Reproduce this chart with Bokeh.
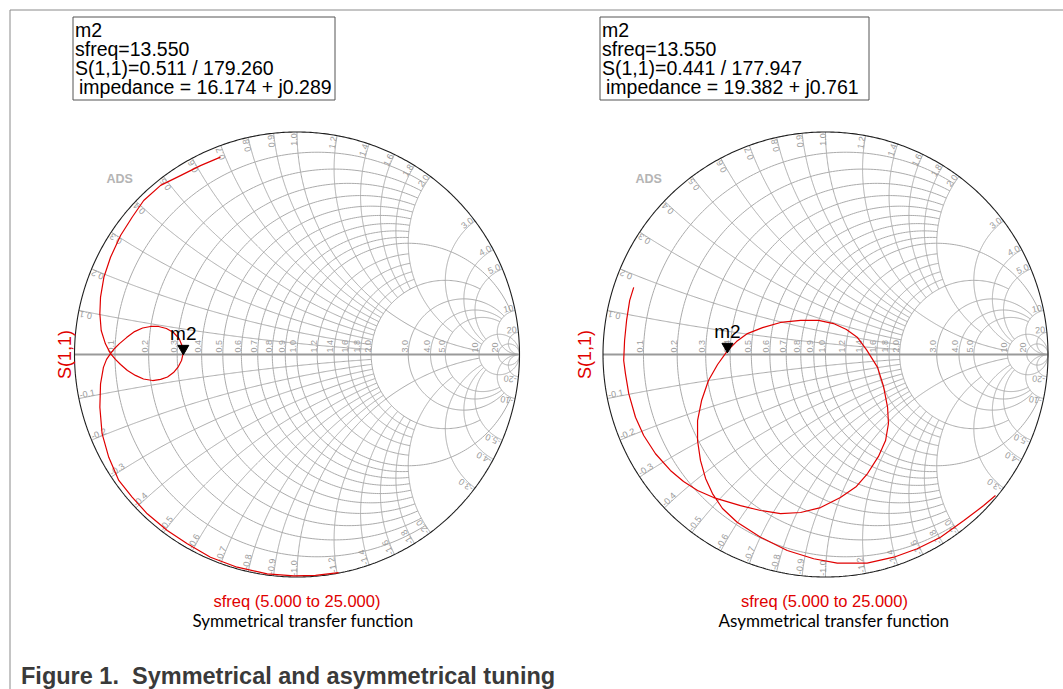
import numpy as np
from bokeh.plotting import figure
from bokeh.models import Range1d
from bokeh.core.properties import value
from bokeh.embed import file_html
from bokeh.resources import INLINE

# ---------------- data ----------------
grid_r = [0.1, 0.2, 0.3, 0.4, 0.5, 0.6, 0.7, 0.8, 0.9, 1.0, 1.2, 1.4, 1.6, 1.8, 2.0, 3.0, 4.0, 5.0, 10.0, 20.0]
grid_labels = ["0.1", "0.2", "0.3", "0.4", "0.5", "0.6", "0.7", "0.8", "0.9", "1.0", "1.2", "1.4",
               "1.6", "1.8", "2.0", "3.0", "4.0", "5.0", "10", "20"]
grid_limit = [2, 2, 2, 2, 2, 2, 2, 2, 2, 10, 2, 2, 2, 2, 5, 10, 10, 10, None, None]
grid_x = grid_r

sym_re = [-0.344, -0.434, -0.524, -0.613, -0.689, -0.741, -0.793, -0.838, -0.868, -0.883, -0.886, -0.880,
          -0.861, -0.838, -0.816, -0.793, -0.762, -0.726, -0.690, -0.649, -0.613, -0.582, -0.555, -0.533,
          -0.519, -0.511, -0.517, -0.530, -0.555, -0.587, -0.622, -0.658, -0.694, -0.730, -0.766, -0.798,
          -0.820, -0.838, -0.856, -0.870, -0.883, -0.886, -0.876, -0.846, -0.801, -0.741, -0.673, -0.583,
          -0.493, -0.389, -0.269, -0.134, -0.014, 0.083, 0.187]
sym_im = [0.887, 0.849, 0.804, 0.760, 0.692, 0.617, 0.535, 0.437, 0.347, 0.258, 0.183, 0.108,
          0.048, 0.004, -0.022, -0.045, -0.072, -0.094, -0.110, -0.117, -0.112, -0.101, -0.081, -0.054,
          -0.027, 0.007, 0.040, 0.072, 0.099, 0.117, 0.126, 0.126, 0.119, 0.103, 0.076, 0.049,
          0.027, 0.004, -0.022, -0.058, -0.132, -0.237, -0.356, -0.462, -0.566, -0.641, -0.716, -0.791,
          -0.851, -0.911, -0.956, -0.986, -0.995, -0.993, -0.980]

asym_re = [-0.862, -0.880, -0.894, -0.903, -0.907, -0.899, -0.884, -0.854, -0.817, -0.764,
           -0.697, -0.638, -0.575, -0.503, -0.382, -0.292, -0.202, -0.112, -0.022, 0.067,
           0.139, 0.189, 0.238, 0.270, 0.283, 0.279, 0.261, 0.234, 0.184, 0.144,
           0.094, 0.036, -0.031, -0.112, -0.202, -0.283, -0.351, -0.400, -0.441, -0.485,
           -0.526, -0.557, -0.575, -0.575, -0.562, -0.539, -0.508, -0.463, -0.397, -0.292,
           -0.172, -0.053, 0.053, 0.187, 0.307, 0.412, 0.517, 0.622, 0.711, 0.764]
asym_im = [0.302, 0.243, 0.153, 0.063, -0.027, -0.087, -0.177, -0.282, -0.364, -0.446,
           -0.521, -0.571, -0.611, -0.643, -0.679, -0.701, -0.715, -0.710, -0.688, -0.643,
           -0.593, -0.535, -0.458, -0.387, -0.310, -0.238, -0.144, -0.058, 0.022, 0.076,
           0.112, 0.139, 0.153, 0.153, 0.144, 0.121, 0.094, 0.058, 0.016, -0.045,
           -0.117, -0.207, -0.297, -0.387, -0.476, -0.557, -0.625, -0.692, -0.754, -0.821,
           -0.881, -0.918, -0.938, -0.938, -0.911, -0.873, -0.821, -0.746, -0.679, -0.634]

marker_mag = [0.511, 0.441]
marker_ang = [179.260, 177.947]
marker_name = ["m2", "m2"]
marker_freq = ["13.550", "13.550"]
marker_imp = ["16.174 + j0.289", "19.382 + j0.761"]
chart_titles = ["Symmetrical transfer function", "Asymmetrical transfer function"]
sweep_label = "sfreq (5.000 to 25.000)"
trace_name = "S(1,1)"
caption = "Figure 1.\u00a0 Symmetrical and asymmetrical tuning"

# ---------------- layout ----------------
W, H = 1063, 689
R = 222.5
CY = 354.0
CX = [296.5, 825.0]
OFF = [0.0, (CX[1] - CX[0]) / R]
RED = "#e00000"
GRID = "#ababab"
LBL = "#9c9c9c"


def sx(px):
    return (px - CX[0]) / R


def sy(py):
    return (CY - py) / R


def gam(z):
    return (z - 1) / (z + 1)


p = figure(width=W, height=H, x_range=Range1d(sx(0), sx(W)), y_range=Range1d(sy(H), sy(0)),
           output_backend="svg", toolbar_location=None, min_border=0,
           x_axis_location=None, y_axis_location=None)
p.grid.visible = False
p.outline_line_color = None
p.background_fill_color = "white"
p.border_fill_color = "white"

# page frame
p.segment(x0=[sx(9.5), sx(9.5)], y0=[sy(9.5), sy(9.5)], x1=[sx(1063), sx(9.5)], y1=[sy(9.5), sy(689)],
          line_color="#8a8a8a", line_width=1)

# ---------------- smith grids ----------------
xs_g, ys_g = [], []
for o in OFF:
    for r, lim in zip(grid_r, grid_limit):
        c = r / (1 + r)
        rho = 1 / (1 + r)
        if lim is None:
            th = np.linspace(0, 2 * np.pi, 361)
        else:
            t1 = np.angle(gam(r + 1j * lim) - c) % (2 * np.pi)
            th = np.linspace(t1, 2 * np.pi - t1, 260)
        xs_g.append(list(o + c + rho * np.cos(th)))
        ys_g.append(list(rho * np.sin(th)))
    for x, lim in zip(grid_x, grid_limit):
        cen = 1 + 1j / x
        t0 = np.angle(gam(1j * x) - cen) % (2 * np.pi)
        if lim is None:
            t1 = 1.5 * np.pi
        else:
            t1 = np.angle(gam(lim + 1j * x) - cen) % (2 * np.pi)
        th = np.linspace(t0, t1, 260)
        gx = 1 + np.cos(th) / x
        gy = 1 / x + np.sin(th) / x
        xs_g.append(list(o + gx))
        ys_g.append(list(gy))
        xs_g.append(list(o + gx))
        ys_g.append(list(-gy))
p.multi_line(xs_g, ys_g, line_color=GRID, line_width=1)

# real axis and rim
for o in OFF:
    p.line([o - 1, o + 1], [0, 0], line_color="#9a9a9a", line_width=2.2)
    th = np.linspace(0, 2 * np.pi, 721)
    p.line(list(o + np.cos(th)), list(np.sin(th)), line_color="#1e1e1e", line_width=1.1)

# grid labels
ads_x = [106.0, 635.0]
for k, o in enumerate(OFF):
    ax_x, ax_y = [], []
    for r in grid_r:
        ax_x.append(o + (r - 1) / (r + 1) - 0.6 / R)
        ax_y.append(2.0 / R)
    p.text(x=ax_x, y=ax_y, text=grid_labels, angle=np.pi / 2, text_align="left", text_baseline="bottom",
           text_font=value("Liberation Sans"), text_font_size="9px", text_color=LBL)
    ux, uy, ua, lx, ly, la, lt = [], [], [], [], [], [], []
    for x, lab in zip(grid_x, grid_labels):
        g = gam(1j * x) * 0.994
        phi = float(np.angle(g))
        ux.append(o + g.real)
        uy.append(g.imag)
        ua.append(phi)
        lx.append(o + g.real)
        ly.append(-g.imag)
        la.append(np.pi - phi)
        lt.append("-" + lab)
    p.text(x=ux, y=uy, text=grid_labels, angle=ua, text_align="right", text_baseline="bottom",
           text_font=value("Liberation Sans"), text_font_size="9px", text_color=LBL)
    p.text(x=lx, y=ly, text=lt, angle=la, text_align="left", text_baseline="bottom",
           text_font=value("Liberation Sans"), text_font_size="9px", text_color=LBL)
    p.text(x=[sx(ads_x[k])], y=[sy(178.3)], text=["ADS"],
           text_font=value("Liberation Sans"), text_font_style="bold", text_font_size="12.5px",
           text_color="#b4b4b4", text_baseline="middle", text_align="left")

# ---------------- traces ----------------
p.line(sym_re, sym_im, line_color=RED, line_width=1.2)
p.line([v + OFF[1] for v in asym_re], asym_im, line_color=RED, line_width=1.2)

# markers
mx, my = [], []
for k in range(2):
    g = marker_mag[k] * np.exp(1j * np.deg2rad(marker_ang[k]))
    mx.append(OFF[k] + g.real)
    my.append(g.imag)
p.scatter(mx, [v + 4.5 / R for v in my], marker="inverted_triangle", size=11, color="black")
p.text(x=mx, y=my, text=marker_name, y_offset=-19.5, text_align="center", text_baseline="middle",
       text_font=value("Liberation Sans"), text_font_size="19px", text_color="black")

# ---------------- annotation boxes ----------------
box_l = [72.5, 599.5]
box_r = [334.5, 868.5]
for k in range(2):
    p.quad(left=[sx(box_l[k])], right=[sx(box_r[k])], top=[sy(16.5)], bottom=[sy(99.5)],
           fill_color="white", line_color="#555555", line_width=1)
    lines = [marker_name[k], "sfreq=" + marker_freq[k],
             "S(1,1)=%.3f / %.3f" % (marker_mag[k], marker_ang[k])]
    p.text(x=[sx(box_l[k] + 2)] * 3, y=[sy(29.8), sy(48.6), sy(67.5)], text=lines,
           text_align="left", text_baseline="middle",
           text_font=value("Liberation Sans"), text_font_size="19.5px", text_color="black")
    p.text(x=[sx(box_l[k] + 6)], y=[sy(86.3)], text=["impedance = " + marker_imp[k]],
           text_align="left", text_baseline="middle",
           text_font=value("Liberation Sans"), text_font_size="19.5px", text_color="black")

# axis-like labels
ylab_x = [64.0, 584.0]
sweep_cx = [296.5, 824.0]
title_cx = [302.5, 833.5]
for k in range(2):
    p.text(x=[sx(ylab_x[k])], y=[sy(354)], text=[trace_name], angle=np.pi / 2, text_align="center",
           text_baseline="middle", text_font=value("Liberation Sans"), text_font_size="18px",
           text_color=RED)
    p.text(x=[sx(sweep_cx[k])], y=[sy(600.5)], text=[sweep_label], text_align="center",
           text_baseline="middle", text_font=value("Liberation Sans"),
           text_font_size="16.5px", text_color=RED)
    p.text(x=[sx(title_cx[k])], y=[sy(619.5)], text=[chart_titles[k]], text_align="center",
           text_baseline="middle", text_font=value("Lato"), text_font_size="17px",
           text_color="black")

p.text(x=[sx(20.5)], y=[sy(675.5)], text=[caption], text_align="left", text_baseline="middle",
       text_font=value("Liberation Sans"), text_font_style="bold", text_font_size="23.5px",
       text_color="#3a3a3a")

open("out.html", "w").write(file_html(p, INLINE))
